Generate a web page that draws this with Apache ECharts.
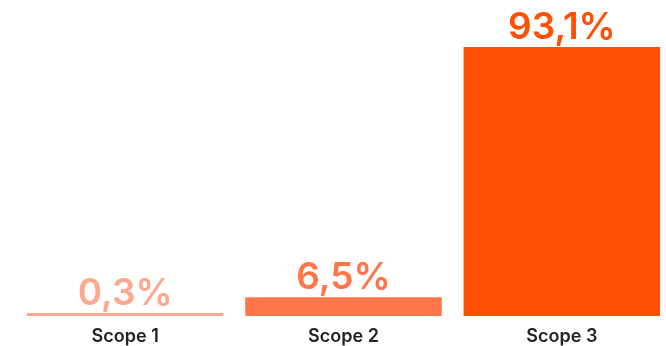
<!DOCTYPE html>
<html>
<head>
<meta charset="utf-8">
<script src="https://cdn.jsdelivr.net/npm/echarts@6/dist/echarts.min.js"></script>
<style>
html,body{margin:0;padding:0;background:#fff;}
#chart{width:666px;height:346px;}
</style>
</head>
<body>
<div id="chart"></div>
<script>
// data
const categories = ['Scope 1', 'Scope 2', 'Scope 3'];
const shares = [0.3, 6.5, 93.1];
const barColors = ['#fca98f', '#ff7649', '#ff5003'];

const chart = echarts.init(document.getElementById('chart'));
chart.setOption({
    animation: false,
    grid: { left: 16, width: 655, top: 27, bottom: 30, outerBoundsMode: 'none' },
    xAxis: {
        type: 'category',
        data: categories,
        axisLine: { show: false },
        axisTick: { show: false },
        axisLabel: {
            color: '#222',
            fontFamily: 'Inter',
            fontWeight: 600,
            fontSize: 18,
            margin: 12
        }
    },
    yAxis: {
        type: 'value',
        min: 0,
        max: 100,
        show: false,
        splitLine: { show: false }
    },
    series: [{
        type: 'bar',
        barCategoryGap: '10%',
        barMinHeight: 3,
        data: shares.map((v, i) => ({
            value: v,
            itemStyle: { color: barColors[i] },
            label: { color: barColors[i] }
        })),
        label: {
            show: true,
            position: 'top',
            distance: 1,
            fontFamily: 'Inter',
            fontWeight: 600,
            fontSize: 37,
            formatter: p => String(p.value).replace('.', ',') + '%'
        }
    }]
});
window.addEventListener('resize', () => chart.resize());
</script>
</body>
</html>
